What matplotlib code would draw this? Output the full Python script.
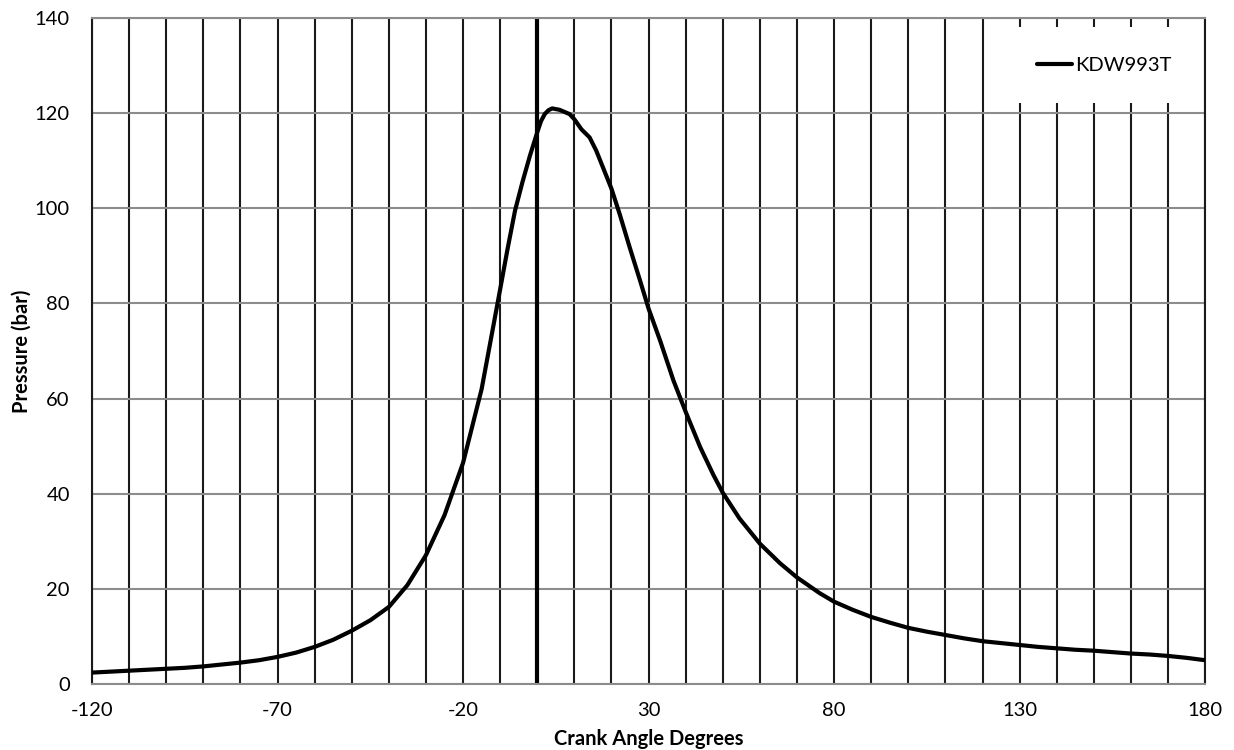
import matplotlib
matplotlib.use("Agg")
import matplotlib.pyplot as plt
from matplotlib.ticker import MultipleLocator

# crank angle (deg) and cylinder pressure (bar)
crank_angle = [-120, -115, -110, -105, -100, -95, -90, -85, -80, -75, -70, -65,
               -60, -55, -50, -45, -40, -35, -30, -25, -20, -15, -10, -8, -6,
               -4, -2, 0, 1, 2, 3, 4, 6, 8.7, 10, 11.9, 14.1, 15.9, 17.7, 20,
               22.2, 24.9, 27.7, 30, 33.1, 36.7, 40, 43.9, 47.5, 50, 54.5, 60,
               65.4, 70, 76.1, 80, 85, 90, 95, 100, 105, 110, 115, 120, 125,
               130, 135, 140, 145, 150, 155, 160, 165, 170, 175, 180]
pressure = [2.4, 2.6, 2.8, 3.0, 3.2, 3.4, 3.7, 4.1, 4.5, 5.0, 5.7, 6.6,
            7.8, 9.3, 11.2, 13.4, 16.2, 20.8, 27.1, 35.5, 46.5, 62.0, 83.0,
            91.5, 99.5, 105.5, 111.0, 116.0, 118.3, 119.8, 120.6, 121.0,
            120.7, 119.8, 118.7, 116.6, 114.9, 112.1, 108.6, 104.1, 98.8,
            91.8, 84.8, 78.9, 72.2, 63.8, 57.2, 49.8, 43.9, 40.2, 34.8, 29.5,
            25.4, 22.4, 19.1, 17.3, 15.6, 14.1, 12.9, 11.8, 11.0, 10.3, 9.6,
            9.0, 8.6, 8.2, 7.8, 7.5, 7.2, 7.0, 6.7, 6.4, 6.2, 5.9, 5.5, 5.0]
x_tick_values = [-120, -70, -20, 30, 80, 130, 180]
series_name = "KDW993T"
tdc = 0

plt.rcParams["font.family"] = ["Lato", "DejaVu Sans"]
plt.rcParams["axes.unicode_minus"] = False

fig = plt.figure(figsize=(12.34, 7.5), dpi=100)
ax = fig.add_axes([0.0746, 0.088, 0.902, 0.888])

ax.set_xlim(-120, 180)
ax.set_ylim(0, 140)
ax.set_xticks(x_tick_values)
ax.xaxis.set_minor_locator(MultipleLocator(10))
ax.yaxis.set_major_locator(MultipleLocator(20))

# vertical grid every 10 deg, dark; horizontal grid grey
ax.grid(True, axis="x", which="both", color="#1a1a1a", lw=1.5, zorder=1)
ax.grid(True, axis="y", which="major", color="#8c8c8c", lw=1.5, zorder=1)
ax.set_axisbelow(True)
ax.tick_params(which="both", length=0, labelsize=14.5, colors="black")
ax.tick_params(axis="x", pad=13)
ax.tick_params(axis="y", pad=16)

for side in ["top", "bottom"]:
    ax.spines[side].set_color("#8c8c8c")
    ax.spines[side].set_linewidth(1.5)
for side in ["left", "right"]:
    ax.spines[side].set_color("#1a1a1a")
    ax.spines[side].set_linewidth(1.5)

ax.axvline(tdc, color="black", lw=3, zorder=2)
ax.plot(crank_angle, pressure, color="black", lw=3, label=series_name,
        zorder=3, solid_capstyle="round", solid_joinstyle="round")

ax.set_xlabel("Crank Angle Degrees", fontsize=14.5, fontweight="bold", labelpad=7)
ax.set_ylabel("Pressure (bar)", fontsize=14.5, fontweight="bold", labelpad=2)

leg = ax.legend(loc="upper right", bbox_to_anchor=(1.0, 0.992),
                frameon=True, fancybox=False, framealpha=1, edgecolor="white",
                fontsize=14.5, handlelength=1.75, handletextpad=0.15,
                borderpad=1.45, borderaxespad=0.2)
leg.get_frame().set_linewidth(0)

fig.savefig("out.png", dpi=100)
